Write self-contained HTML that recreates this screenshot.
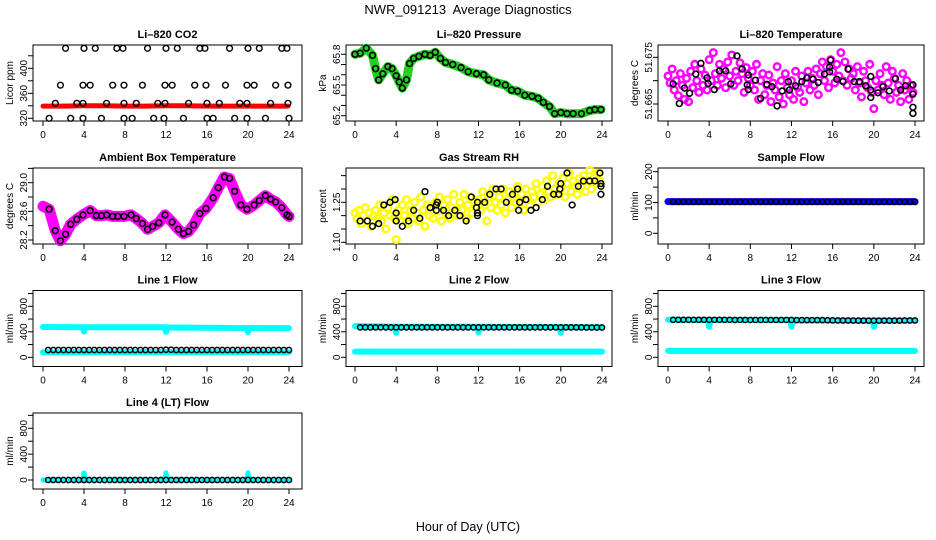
<!DOCTYPE html>
<html><head><meta charset="utf-8"><style>
html,body{margin:0;padding:0;background:#fff;}
svg{display:block;font-family:"Liberation Sans",Arial,sans-serif;}
</style></head><body>
<svg id="chart" width="936" height="540" viewBox="0 0 936 540" xmlns="http://www.w3.org/2000/svg">
<rect x="0" y="0" width="936" height="540" fill="#fff"/>
<text x="468" y="14" font-size="13" text-anchor="middle" style="white-space:pre">NWR_091213&#160; Average Diagnostics</text>
<text x="468" y="531" font-size="12.5" text-anchor="middle">Hour of Day (UTC)</text>
</svg>
<script>
// ---------- DATA ----------
const xTicks=[0,4,8,12,16,20,24];
// CO2
const co2TopH=[2.2,4.0,5.1,7.2,7.8,10.2,12.0,13.1,15.3,15.8,18.2,20.0,21.1,23.3,23.8];
const co2TopV=[432,432,432,432,432,432,432,432,432,432,432,432,432,432,432];
const co2MidH=[1.7,3.9,4.6,6.8,7.9,9.7,11.9,12.6,14.8,15.9,17.8,19.9,20.6,22.7,23.9];
const co2MidV=[373,373,373,373,373,373,373,373,373,373,373,373,373,373,373];
const co2LowH=[1.2,3.3,3.9,6.2,7.9,9.1,11.2,11.9,14.2,16.0,17.2,19.2,19.9,22.2,23.9];
const co2LowV=[344,344,344,344,344,344,344,344,344,344,344,344,344,344,344];
const co2BotH=[0.6,2.7,3.9,5.7,7.9,8.7,10.8,11.8,13.7,16.0,16.6,18.7,19.9,21.7,24.0];
const co2BotV=[320,320,320,320,320,320,320,320,320,320,320,320,320,320,320];
const co2RedH=[0,2,4,6,8,10,12,14,16,18,20,22,23.9];
const co2RedV=[339.5,339.5,340,340,339.5,339.5,340,340,339.5,339.5,339.5,339.5,339.5];
// Pressure
const presH=[0,0.5,1.1,1.7,2.0,2.3,2.7,3.2,3.6,4.0,4.3,4.6,5.0,5.3,5.7,6.2,6.8,7.3,7.8,8.3,8.8,9.5,10.3,11,11.8,12.5,13,13.8,14.6,15.2,15.8,16.5,17.2,17.8,18.3,18.9,19.4,20,20.6,21.2,22,22.8,23.3,23.9];
const presV=[65.80,65.81,65.86,65.79,65.66,65.55,65.61,65.68,65.66,65.59,65.53,65.47,65.55,65.71,65.76,65.78,65.80,65.79,65.82,65.76,65.72,65.70,65.67,65.63,65.61,65.60,65.55,65.52,65.50,65.45,65.44,65.40,65.39,65.37,65.33,65.29,65.22,65.23,65.22,65.22,65.22,65.25,65.26,65.26];
// Li-820 temperature
const tempMag=[51.6710,51.6695,51.6725,51.6680,51.6700,51.6668,51.6715,51.6690,51.6660,51.6705,
51.6655,51.6720,51.6685,51.6735,51.6700,51.6675,51.6725,51.6690,51.6712,51.6680,
51.6745,51.6700,51.6760,51.6715,51.6690,51.6735,51.6705,51.6725,51.6685,51.6740,
51.6710,51.6755,51.6690,51.6720,51.6700,51.6738,51.6715,51.6675,51.6728,51.6705,
51.6690,51.6720,51.6680,51.6735,51.6660,51.6700,51.6715,51.6670,51.6690,51.6712,
51.6655,51.6695,51.6680,51.6730,51.6665,51.6700,51.6650,51.6715,51.6685,51.6670,
51.6700,51.6660,51.6720,51.6685,51.6675,51.6710,51.6655,51.6695,51.6720,51.6680,
51.6705,51.6690,51.6725,51.6670,51.6715,51.6740,51.6700,51.6730,51.6685,51.6745,
51.6720,51.6695,51.6735,51.6710,51.6760,51.6700,51.6740,51.6690,51.6725,51.6705,
51.6715,51.6680,51.6730,51.6695,51.6665,51.6720,51.6700,51.6685,51.6735,51.6675,
51.6640,51.6700,51.6680,51.6715,51.6690,51.6670,51.6730,51.6695,51.6660,51.6720,
51.6705,51.6675,51.6690,51.6655,51.6715,51.6680,51.6700,51.6660,51.6690,51.6675];
const tempBlkH=[0.5,1.1,1.6,2.1,2.7,3.2,3.8,3.9,4.5,5.0,5.6,6.1,6.7,7.2,7.8,7.7,7.8,8.5,9.0,9.6,10.1,10.6,11.1,11.7,11.8,12.4,13.0,13.5,14.1,14.6,15.2,15.7,15.7,15.8,16.4,17.0,17.5,18.1,18.6,19.2,19.7,19.7,19.7,20.4,20.9,21.5,22.1,22.6,23.1,23.8,23.8,23.8,23.8];
const tempBlkV=[51.6693,51.6651,51.6684,51.6673,51.6714,51.6737,51.6706,51.6694,51.6681,51.6721,51.6721,51.6693,51.6753,51.6725,51.6712,51.6691,51.6681,51.6701,51.6662,51.6692,51.6687,51.6646,51.6678,51.6698,51.6680,51.6689,51.6698,51.6706,51.6703,51.6696,51.6714,51.6719,51.6729,51.6744,51.6703,51.6698,51.6725,51.6698,51.6698,51.6689,51.6709,51.6680,51.6664,51.6674,51.6687,51.6678,51.6704,51.6680,51.6689,51.6691,51.6671,51.6643,51.6630];
// Ambient box temperature
const ambH=[0,0.6,1.2,1.7,2.2,2.7,3.3,3.9,4.6,5.2,5.7,6.2,6.8,7.3,7.9,8.6,9.1,9.7,10.2,10.7,11.3,11.9,12.6,13.2,13.7,14.2,14.7,15.3,15.9,16.6,17.1,17.7,18.2,18.7,19.3,19.9,20.6,21.1,21.7,22.2,22.7,23.3,23.8,24.0];
const ambV=[28.67,28.63,28.33,28.19,28.28,28.42,28.49,28.55,28.61,28.54,28.54,28.55,28.53,28.53,28.53,28.55,28.50,28.43,28.35,28.39,28.44,28.55,28.45,28.35,28.29,28.32,28.41,28.57,28.64,28.79,28.93,29.08,29.06,28.88,28.69,28.63,28.69,28.75,28.82,28.77,28.73,28.65,28.55,28.53];
// Gas stream RH
const rhYel=[1.21,1.19,1.22,1.17,1.20,1.23,1.18,1.21,1.16,1.20,
1.22,1.19,1.24,1.18,1.21,1.15,1.23,1.20,1.26,1.19,
1.11,1.22,1.18,1.24,1.20,1.26,1.17,1.22,1.19,1.25,
1.21,1.18,1.27,1.22,1.16,1.24,1.20,1.23,1.19,1.25,
1.22,1.27,1.18,1.24,1.21,1.26,1.19,1.23,1.28,1.22,
1.20,1.25,1.22,1.28,1.19,1.24,1.27,1.21,1.25,1.23,
1.26,1.22,1.29,1.24,1.18,1.27,1.23,1.30,1.25,1.22,
1.27,1.24,1.30,1.21,1.26,1.29,1.23,1.27,1.25,1.31,
1.25,1.28,1.22,1.30,1.26,1.24,1.29,1.27,1.32,1.25,
1.28,1.31,1.26,1.33,1.29,1.27,1.35,1.30,1.28,1.32,
1.30,1.34,1.27,1.32,1.36,1.29,1.33,1.31,1.28,1.34,
1.31,1.35,1.29,1.33,1.37,1.30,1.34,1.32,1.36,1.33];
const rhBlkH=[0.5,1.2,1.7,2.3,2.8,3.4,3.9,4.0,4.0,4.6,5.2,5.7,6.3,6.8,7.3,7.9,7.9,8.0,8.6,9.1,9.7,10.2,10.8,11.3,11.8,11.9,11.9,11.9,12.6,13.1,13.7,14.2,14.7,15.3,15.8,15.9,16.0,16.6,17.1,17.6,18.2,18.7,19.3,19.8,19.9,20.0,20.6,21.1,21.7,22.2,22.8,23.3,23.8,23.9,23.9,23.9];
const rhBlkV=[1.18,1.18,1.16,1.17,1.24,1.25,1.26,1.21,1.18,1.16,1.18,1.22,1.19,1.29,1.23,1.22,1.24,1.25,1.22,1.20,1.22,1.20,1.18,1.27,1.23,1.21,1.20,1.25,1.25,1.28,1.30,1.30,1.25,1.28,1.30,1.22,1.25,1.26,1.22,1.23,1.26,1.31,1.28,1.28,1.30,1.32,1.36,1.24,1.31,1.33,1.33,1.33,1.36,1.32,1.31,1.28];
// Flows (black = half-hourly averages, 0.5 .. 24 h)
const sampleBlk=[102,102,102,102,102,102,102,102,102,102,102,102,102,102,102,102,102,102,102,102,102,102,102,102,102,102,102,102,102,102,102,102,102,102,102,102,102,102,102,102,102,102,102,102,102,102,102,102];
const sampleBlueH=[0,6,12,18,24];
const sampleBlueV=[103,103,103,103,103];
const l1Blk=[115,115,115,115,115,115,115,115,115,115,115,115,115,115,115,115,115,115,115,115,115,115,115,118,118,115,115,115,115,115,115,115,115,115,115,115,115,115,115,115,115,115,115,115,115,115,115,115];
const l1CyanHiH=[0,3.9,4,4.1,8,11.9,12,12.1,16,19.9,20,20.1,24];
const l1CyanHiV=[475,472,405,470,472,470,400,468,462,458,395,460,458];
const l1CyanLoH=[0,12,24];
const l1CyanLoV=[80,82,80];
const l2Blk=[470,470,470,470,470,470,470,470,470,470,470,470,470,470,470,470,470,470,470,470,470,470,470,470,470,470,470,470,470,470,470,470,470,470,470,470,470,470,470,470,470,470,470,470,468,468,468,468];
const l2CyanHiH=[0,3.9,4,4.1,11.9,12,12.1,19.9,20,20.1,24];
const l2CyanHiV=[490,480,385,480,480,390,478,475,385,472,470];
const l2CyanLoH=[0,12,24];
const l2CyanLoV=[90,90,90];
const l3Blk=[588,588,588,588,588,588,588,588,588,588,588,588,586,586,586,586,586,586,586,586,586,586,586,586,584,584,584,584,584,584,582,580,578,578,578,576,576,576,576,576,576,576,576,576,576,578,578,578];
const l3CyanHiH=[0,3.9,4,4.1,11.9,12,12.1,19.9,20,20.1,24];
const l3CyanHiV=[590,585,480,585,585,480,580,575,478,575,575];
const l3CyanLoH=[0,12,24];
const l3CyanLoV=[100,100,100];
const l4Blk=[0,0,0,0,0,0,0,0,0,0,0,0,0,0,0,0,0,0,0,0,0,0,0,0,0,0,0,0,0,0,0,0,0,0,0,0,0,0,0,0,0,0,0,0,0,0,0,0];
const l4CyanH=[0,3.9,4,4.1,11.9,12,12.1,19.9,20,20.1,24];
const l4CyanV=[0,0,110,0,0,110,0,0,110,0,0];

// ---------- LAYOUT ----------
const NS='http://www.w3.org/2000/svg';
const svg=document.getElementById('chart');
const cols=[{l:33,r:302,x0:43,x24:289},{l:346,r:612,x0:355,x24:602},{l:658,r:924,x0:668,x24:915}];
const rowTop=[45,168,290.5,413];
const BH=76;

function add(parent,tag,attrs,name){
  const e=document.createElementNS(NS,tag);
  for(const k in attrs) e.setAttribute(k,attrs[k]);
  
  
  parent.appendChild(e);
  return e;
}
function lin(v1,p1,v2,p2){return v=>p1+(v-v1)*(p2-p1)/(v2-v1);}

function panel(key,col,row,title,ylab,ya,yb,yTicks,yLabels){
  const c=cols[col], top=rowTop[row], bot=top+BH;
  const g=add(svg,'g',{},key+'-panel');
  const x=lin(0,c.x0,24,c.x24);
  const y=lin(ya[0],ya[1],yb[0],yb[1]);
  add(g,'text',{x:(c.l+c.r)/2,y:top-7,'font-size':11,'font-weight':'bold','text-anchor':'middle'},key+'-title').textContent=title;
  add(g,'rect',{x:c.l,y:top,width:c.r-c.l,height:BH,fill:'none',stroke:'#000','stroke-width':1},key+'-plot-box');
  add(g,'line',{x1:x(xTicks[0]),x2:x(xTicks[xTicks.length-1]),y1:bot,y2:bot,stroke:'#000'},key+'-x-axis');
  xTicks.forEach(t=>{
    add(g,'line',{x1:x(t),x2:x(t),y1:bot,y2:bot+5,stroke:'#000'},key+'-x-tick');
    add(g,'text',{x:x(t),y:bot+17,'font-size':10,'text-anchor':'middle'},key+'-x-tick-label').textContent=t;
  });
  add(g,'line',{x1:c.l,x2:c.l,y1:y(yTicks[0]),y2:y(yTicks[yTicks.length-1]),stroke:'#000'},key+'-y-axis');
  yTicks.forEach(t=>{
    add(g,'line',{x1:c.l-5,x2:c.l,y1:y(t),y2:y(t),stroke:'#000'},key+'-y-tick');
  });
  yLabels.forEach(t=>{
    const yy=y(parseFloat(t));
    add(g,'text',{x:c.l-6,y:yy,'font-size':10,'text-anchor':'middle',transform:'rotate(-90 '+(c.l-6)+' '+yy+')'},key+'-y-tick-label').textContent=t;
  });
  const lx=c.l-20;
  add(g,'text',{x:lx,y:top+BH/2,'font-size':10,'text-anchor':'middle',transform:'rotate(-90 '+lx+' '+(top+BH/2)+')'},key+'-y-axis-title').textContent=ylab;
  const clip=add(g,'g',{},key+'-series');
  return {g:clip,x,y};
}
function circles(p,hs,vs,color,name,r,sw){
  hs.forEach((h,i)=>{
    add(p.g,'circle',{cx:p.x(h),cy:p.y(vs[i]),r:r||2.9,fill:'none',stroke:color,'stroke-width':sw||1.4},name);
  });
}
function band(p,hs,vs,color,w,name){
  const pts=hs.map((h,i)=>p.x(h).toFixed(1)+','+p.y(vs[i]).toFixed(1)).join(' ');
  add(p.g,'polyline',{points:pts,fill:'none',stroke:color,'stroke-width':w,'stroke-linejoin':'round','stroke-linecap':'round'},name);
}
function halfHours(n){const a=[];for(let i=0;i<n;i++)a.push((i+1)*0.5);return a;}
function evenHours(n){const a=[];for(let i=0;i<n;i++)a.push(i*24/n);return a;}

let p=panel('co2',0,0,'Li\u2013820 CO2','Licor ppm',[320,118.3],[400,68.3],[320,340,360,380,400,420],['320','360','400']);
band(p,co2RedH,co2RedV,'#ff0000',5,'co2-red-band');
circles(p,co2TopH,co2TopV,'#000','co2-point');
circles(p,co2MidH,co2MidV,'#000','co2-point');
circles(p,co2LowH,co2LowV,'#000','co2-point');
circles(p,co2BotH,co2BotV,'#000','co2-point');

p=panel('pressure',1,0,'Li\u2013820 Pressure','kPa',[65.8,54.3],[65.2,115.7],[65.2,65.3,65.4,65.5,65.6,65.7,65.8],['65.2','65.5','65.8']);
band(p,presH,presV,'#22d022',9,'pressure-green-band');
circles(p,presH,presV,'#000','pressure-point',2.9,1.6);

p=panel('licor-temp',2,0,'Li\u2013820 Temperature','degrees C',[51.675,57.3],[51.665,104],[51.665,51.67,51.675],['51.665','51.675']);
circles(p,evenHours(tempMag.length),tempMag,'#ff00ff','licor-temp-magenta-point',3.3,2.4);
circles(p,tempBlkH,tempBlkV,'#000','licor-temp-black-point',2.9,1.6);

p=panel('ambient-temp',0,1,'Ambient Box Temperature','degrees C',[28.2,240],[29.0,182.7],[28.2,28.4,28.6,28.8,29.0,29.2],['28.2','28.6','29.0']);
band(p,ambH,ambV,'#ff00ff',11,'ambient-magenta-band');
circles(p,ambH.slice(1),ambV.slice(1),'#000','ambient-point',2.9,1.6);

p=panel('gas-rh',1,1,'Gas Stream RH','percent',[1.10,242.3],[1.25,202.3],[1.10,1.15,1.20,1.25,1.30,1.35],['1.10','1.25']);
circles(p,evenHours(rhYel.length),rhYel,'#ffff00','rh-yellow-point',3.3,2.5);
circles(p,rhBlkH,rhBlkV,'#000','rh-black-point',2.9,1.5);

p=panel('sample-flow',2,1,'Sample Flow','ml/min',[0,233.3],[200,171.7],[0,50,100,150,200],['0','100','200']);
band(p,sampleBlueH,sampleBlueV,'#0000ff',7,'sample-blue-band');
circles(p,halfHours(sampleBlk.length),sampleBlk,'#000','sample-flow-point',2.6,1.5);

const fT=[0,200,400,600,800,1000], fL=['0','400','800'];
p=panel('line1',0,2,'Line 1 Flow','ml/min',[0,357.3],[800,306.3],fT,fL);
band(p,l1CyanHiH,l1CyanHiV,'#00ffff',6,'line1-cyan-high-band');
band(p,l1CyanLoH,l1CyanLoV,'#00ffff',6,'line1-cyan-low-band');
circles(p,halfHours(l1Blk.length),l1Blk,'#000','line1-point',2.6,1.5);
p=panel('line2',1,2,'Line 2 Flow','ml/min',[0,357.3],[800,306.3],fT,fL);
band(p,l2CyanHiH,l2CyanHiV,'#00ffff',6,'line2-cyan-high-band');
band(p,l2CyanLoH,l2CyanLoV,'#00ffff',6,'line2-cyan-low-band');
circles(p,halfHours(l2Blk.length),l2Blk,'#000','line2-point',2.6,1.5);
p=panel('line3',2,2,'Line 3 Flow','ml/min',[0,357.3],[800,306.3],fT,fL);
band(p,l3CyanHiH,l3CyanHiV,'#00ffff',6,'line3-cyan-high-band');
band(p,l3CyanLoH,l3CyanLoV,'#00ffff',6,'line3-cyan-low-band');
circles(p,halfHours(l3Blk.length),l3Blk,'#000','line3-point',2.6,1.5);
p=panel('line4',0,3,'Line 4 (LT) Flow','ml/min',[0,480],[800,428.3],fT,fL);
band(p,l4CyanH,l4CyanV,'#00ffff',5,'line4-cyan-band');
circles(p,halfHours(l4Blk.length),l4Blk,'#000','line4-point',2.6,1.5);
</script>
</body></html>
